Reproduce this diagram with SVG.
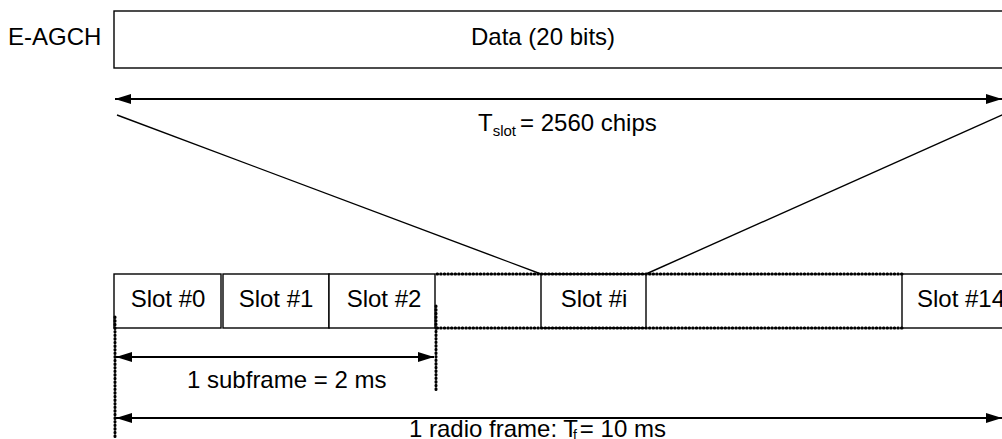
<svg xmlns="http://www.w3.org/2000/svg" width="1002" height="439" viewBox="0 0 1002 439">
<style>
text{font-family:"Liberation Sans",Arial,sans-serif;font-size:24px;fill:#000}
.box{fill:#fff;stroke:#000;stroke-width:1.4}
.ln{stroke:#000;stroke-width:1.4;fill:none}
.arr{stroke:#000;stroke-width:1.8;fill:none;marker-start:url(#ah);marker-end:url(#ah)}
.dot{stroke:#000;stroke-width:3;fill:none;stroke-dasharray:0.6 3;stroke-linecap:round}
.mid{text-anchor:middle}
</style>
<defs>
<marker id="ah" viewBox="0 0 16 10" refX="16" refY="5" markerWidth="16" markerHeight="10" markerUnits="userSpaceOnUse" orient="auto-start-reverse">
<path d="M0,0 L16,5 L0,10 Z" fill="#000"/>
</marker>
</defs>
<g id="label-eagch"><text x="8" y="45">E-AGCH</text></g>
<g id="data-box">
<rect class="box" x="114" y="11" width="900" height="57"/>
<text x="471" y="45">Data (20 bits)</text>
</g>
<g id="slot0"><rect class="box" x="114" y="274" width="107" height="54"/><text class="mid" x="168" y="307">Slot #0</text></g>
<g id="slot1"><rect class="box" x="223" y="274" width="106" height="54"/><text class="mid" x="276" y="307">Slot #1</text></g>
<g id="slot2"><rect class="box" x="329" y="274" width="106" height="54"/><text class="mid" x="384" y="307">Slot #2</text></g>
<g id="sloti"><rect class="box" x="541" y="274" width="105" height="54"/><text class="mid" x="594" y="307">Slot #i</text></g>
<g id="slot14"><rect class="box" x="902" y="274" width="120" height="54"/><text x="917" y="307">Slot #14</text></g>
<g id="connectors">
<line class="arr" x1="115" y1="99" x2="1002" y2="99"/>
<line class="ln" x1="117" y1="115" x2="541" y2="274"/>
<line class="ln" x1="1003" y1="114.5" x2="646" y2="274"/>
<line class="dot" x1="437" y1="274" x2="904" y2="274"/>
<line class="dot" x1="437" y1="328" x2="904" y2="328"/>
<line class="dot" x1="436" y1="306" x2="436" y2="392"/>
<line class="dot" x1="115" y1="317" x2="115" y2="439"/>
<line class="arr" x1="116" y1="357" x2="434" y2="357"/>
<line class="arr" x1="116" y1="418" x2="1002" y2="418"/>
</g>
<g id="labels">
<text x="478" y="131">T<tspan font-size="15" dy="5">slot</tspan><tspan dy="-5" dx="4">= 2560 chips</tspan></text>
<text x="187" y="388">1 subframe = 2 ms</text>
<text x="409" y="437">1 radio frame: T<tspan font-size="14" dx="-5" dy="3">f</tspan><tspan dy="-3" dx="3">= 10 ms</tspan></text>
</g>
</svg>
